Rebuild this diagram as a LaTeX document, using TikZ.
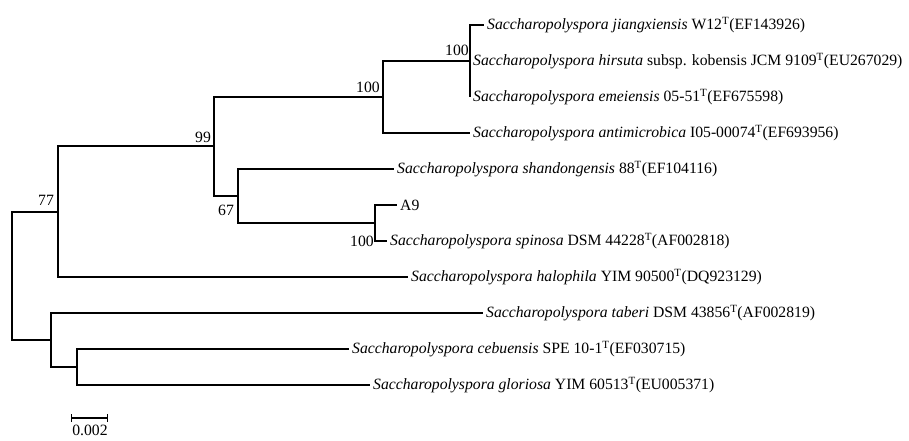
\documentclass[tikz,border=0pt]{standalone}
\usepackage{fontspec}
\setmainfont{Liberation Serif}
\begin{document}
\begin{tikzpicture}[
    x=1pt, y=-1pt,
    every node/.style={font=\fontsize{15.7}{19}\selectfont},
    leaf/.style={anchor=west,inner xsep=3pt,inner ysep=0pt},
    boot/.style={inner sep=0pt},
    branch/.style={line width=1.1pt}
]
\useasboundingbox (0,0) rectangle (909,441);

% internal nodes
\coordinate (root) at (12,276);
\coordinate (n77) at (58,212);
\coordinate (n99) at (214,146);
\coordinate (n100a) at (383,97);
\coordinate (n100b) at (470,61);
\coordinate (n67) at (238,196);
\coordinate (nA9) at (375,223);
\coordinate (nbot) at (51,340);
\coordinate (ncg) at (77,367);

% leaves
\node[leaf] (jiang) at (484,25) {\textit{Saccharopolyspora jiangxiensis} W12\textsuperscript{T}(EF143926)};
\node[leaf] (hirs) at (470,61) {\textit{Saccharopolyspora hirsuta} subsp. kobensis JCM 9109\textsuperscript{T}(EU267029)};
\node[leaf] (emei) at (470,97) {\textit{Saccharopolyspora emeiensis} 05-51\textsuperscript{T}(EF675598)};
\node[leaf] (anti) at (470,133) {\textit{Saccharopolyspora antimicrobica} I05-00074\textsuperscript{T}(EF693956)};
\node[leaf] (shan) at (394,169) {\textit{Saccharopolyspora shandongensis} 88\textsuperscript{T}(EF104116)};
\node[leaf] (a9) at (397,205) {A9};
\node[leaf] (spin) at (387,241) {\textit{Saccharopolyspora spinosa} DSM 44228\textsuperscript{T}(AF002818)};
\node[leaf] (halo) at (408,277) {\textit{Saccharopolyspora halophila} YIM 90500\textsuperscript{T}(DQ923129)};
\node[leaf] (tabe) at (483,313) {\textit{Saccharopolyspora taberi} DSM 43856\textsuperscript{T}(AF002819)};
\node[leaf] (cebu) at (349,349) {\textit{Saccharopolyspora cebuensis} SPE 10-1\textsuperscript{T}(EF030715)};
\node[leaf] (glor) at (370,385) {\textit{Saccharopolyspora gloriosa} YIM 60513\textsuperscript{T}(EU005371)};

% branches
\draw[branch] (root) |- (n77);
\draw[branch] (root) |- (nbot);
\draw[branch] (n77) |- (n99);
\draw[branch] (n77) |- (halo.west);
\draw[branch] (n99) |- (n100a);
\draw[branch] (n99) |- (n67);
\draw[branch] (n100a) |- (n100b);
\draw[branch] (n100a) |- (anti.west);
\draw[branch] (n100b) |- (jiang.west);
\draw[branch] (n100b) |- (emei.west);
\draw[branch] (n67) |- (shan.west);
\draw[branch] (n67) |- (nA9);
\draw[branch] (nA9) |- (a9.west);
\draw[branch] (nA9) |- (spin.west);
\draw[branch] (nbot) |- (tabe.west);
\draw[branch] (nbot) |- (ncg);
\draw[branch] (ncg) |- (cebu.west);
\draw[branch] (ncg) |- (glor.west);

% bootstrap values
\node[boot] (b100b) at (457,50) {100};
\node[boot] (b100a) at (368,87) {100};
\node[boot] (b99) at (203,137) {99};
\node[boot] (b77) at (46,200) {77};
\node[boot] (b67) at (226,210) {67};
\node[boot] (b100c) at (362,241) {100};

% scale bar
\coordinate (sbl) at (71,418);
\coordinate (sbr) at (108,418);
\draw[branch,|-|] (sbl) -- (sbr);
\node[boot,anchor=north] (sbtext) at (90,425) {0.002};

\end{tikzpicture}
\end{document}
